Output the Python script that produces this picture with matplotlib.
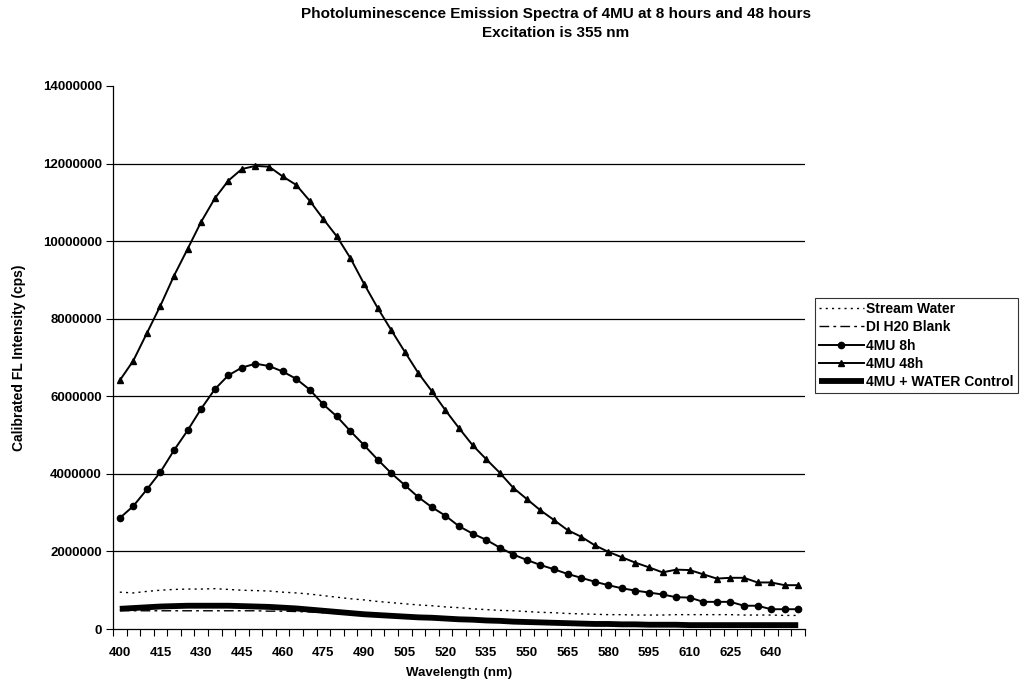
import matplotlib
matplotlib.use("Agg")
import matplotlib.pyplot as plt
import numpy as np

plt.rcParams['font.family'] = ['Liberation Sans', 'DejaVu Sans']

wavelengths = list(range(400, 651, 5))
tick_labels = list(range(400, 641, 15))

stream_water = [0.95, 0.93, 0.97, 1.00, 1.02, 1.03, 1.03, 1.04, 1.02, 1.00,
                0.99, 0.98, 0.95, 0.93, 0.90, 0.86, 0.82, 0.78, 0.75, 0.71,
                0.68, 0.65, 0.62, 0.60, 0.57, 0.55, 0.52, 0.50, 0.48, 0.47,
                0.45, 0.43, 0.42, 0.40, 0.39, 0.38, 0.37, 0.37, 0.36, 0.36,
                0.36, 0.37, 0.37, 0.37, 0.37, 0.37, 0.36, 0.36, 0.36, 0.35, 0.35]

di_blank = [0.48, 0.47, 0.47, 0.47, 0.47, 0.47, 0.47, 0.47, 0.47, 0.47,
            0.47, 0.46, 0.46, 0.45, 0.44, 0.42, 0.40, 0.38, 0.36, 0.34,
            0.32, 0.30, 0.29, 0.27, 0.26, 0.24, 0.23, 0.21, 0.20, 0.19,
            0.17, 0.16, 0.15, 0.14, 0.13, 0.12, 0.12, 0.11, 0.11, 0.10,
            0.10, 0.10, 0.10, 0.09, 0.09, 0.09, 0.09, 0.09, 0.09, 0.09, 0.09]

mu_8h = [2.86, 3.17, 3.60, 4.05, 4.61, 5.12, 5.68, 6.18, 6.54, 6.74,
         6.84, 6.78, 6.64, 6.45, 6.17, 5.79, 5.48, 5.10, 4.74, 4.37,
         4.02, 3.71, 3.40, 3.14, 2.92, 2.65, 2.46, 2.30, 2.10, 1.92,
         1.78, 1.65, 1.54, 1.42, 1.32, 1.22, 1.13, 1.05, 0.99, 0.94,
         0.89, 0.82, 0.81, 0.70, 0.70, 0.70, 0.60, 0.60, 0.51, 0.51, 0.51]

mu_48h = [6.41, 6.92, 7.63, 8.34, 9.11, 9.80, 10.50, 11.10, 11.56, 11.86,
          11.94, 11.92, 11.67, 11.45, 11.04, 10.57, 10.12, 9.56, 8.90, 8.28,
          7.71, 7.15, 6.60, 6.13, 5.64, 5.18, 4.74, 4.38, 4.03, 3.64,
          3.35, 3.06, 2.81, 2.55, 2.38, 2.16, 1.99, 1.85, 1.71, 1.59,
          1.46, 1.53, 1.52, 1.41, 1.30, 1.32, 1.32, 1.20, 1.20, 1.13, 1.13]

control = [0.52, 0.54, 0.56, 0.58, 0.59, 0.60, 0.60, 0.60, 0.60, 0.59,
           0.58, 0.57, 0.55, 0.53, 0.50, 0.47, 0.44, 0.41, 0.38, 0.36,
           0.34, 0.32, 0.30, 0.29, 0.27, 0.25, 0.24, 0.22, 0.21, 0.19,
           0.18, 0.17, 0.16, 0.15, 0.14, 0.13, 0.13, 0.12, 0.12, 0.11,
           0.11, 0.11, 0.10, 0.10, 0.10, 0.10, 0.10, 0.10, 0.10, 0.10, 0.10]

scale = 1e6
x = np.array(wavelengths)

fig = plt.figure(figsize=(10.26, 6.87), dpi=100)
ax = fig.add_axes([113/1026, 1 - 629/687, (805 - 113)/1026, (629 - 86)/687])

ax.plot(x, np.array(stream_water) * scale, color='black', lw=1.0,
        linestyle=(0, (1.5, 3)), label='Stream Water', zorder=3)
ax.plot(x, np.array(di_blank) * scale, color='black', lw=1.0,
        linestyle=(0, (7, 3, 2, 3)), label='DI H20 Blank', zorder=3)
ax.plot(x, np.array(mu_8h) * scale, color='black', lw=1.4, marker='o',
        markersize=4.5, label='4MU 8h', zorder=4)
ax.plot(x, np.array(mu_48h) * scale, color='black', lw=1.4, marker='^',
        markersize=5, label='4MU 48h', zorder=4)
ax.plot(x, np.array(control) * scale, color='black', lw=4.2,
        solid_capstyle='butt', label='4MU + WATER Control', zorder=3)

ax.set_xlim(397.5, 652.5)
ax.set_ylim(0, 14e6)
ax.set_yticks(np.arange(0, 14e6 + 1, 2e6))
ax.set_yticklabels([f"{int(v)}" for v in np.arange(0, 14e6 + 1, 2e6)],
                   fontsize=9.5, fontweight='bold')
ax.set_xticks(tick_labels)
ax.set_xticklabels([str(t) for t in tick_labels], fontsize=9.5, fontweight='bold')
ax.set_xticks(np.arange(397.5, 653, 5), minor=True)
ax.tick_params(axis='x', which='major', length=0, pad=13)
ax.tick_params(axis='x', which='minor', length=5, width=0.8, direction='out')
ax.tick_params(axis='y', which='major', length=5, width=0.8, direction='out', pad=3)

for s in ['top', 'right']:
    ax.spines[s].set_visible(False)
for s in ['left', 'bottom']:
    ax.spines[s].set_linewidth(0.9)

ax.yaxis.grid(True, color='black', lw=0.9)
ax.set_axisbelow(True)
gl = ax.yaxis.get_gridlines()
gl[-1].set_visible(False)
gl[0].set_visible(False)

ax.set_xlabel('Wavelength (nm)', fontsize=9.5, fontweight='bold', labelpad=6)
ax.set_ylabel('Calibrated FL Intensity (cps)', fontsize=10, fontweight='bold', labelpad=12)

fig.text(0.542, 1 - 14/687, 'Photoluminescence Emission Spectra of 4MU at 8 hours and 48 hours',
         ha='center', va='center', fontsize=11, fontweight='bold')
fig.text(0.542, 1 - 33/687, 'Excitation is 355 nm',
         ha='center', va='center', fontsize=11, fontweight='bold')

leg = ax.legend(loc='upper left', bbox_to_anchor=(815/1026, 1 - 298/687),
                bbox_transform=fig.transFigure, frameon=True, fancybox=False,
                edgecolor='black', prop={'weight': 'bold', 'size': 10},
                borderpad=0.3, labelspacing=0.3, handlelength=3.2,
                handletextpad=0.2, borderaxespad=0)
leg.get_frame().set_linewidth(0.8)

fig.savefig('out.png', dpi=100)
